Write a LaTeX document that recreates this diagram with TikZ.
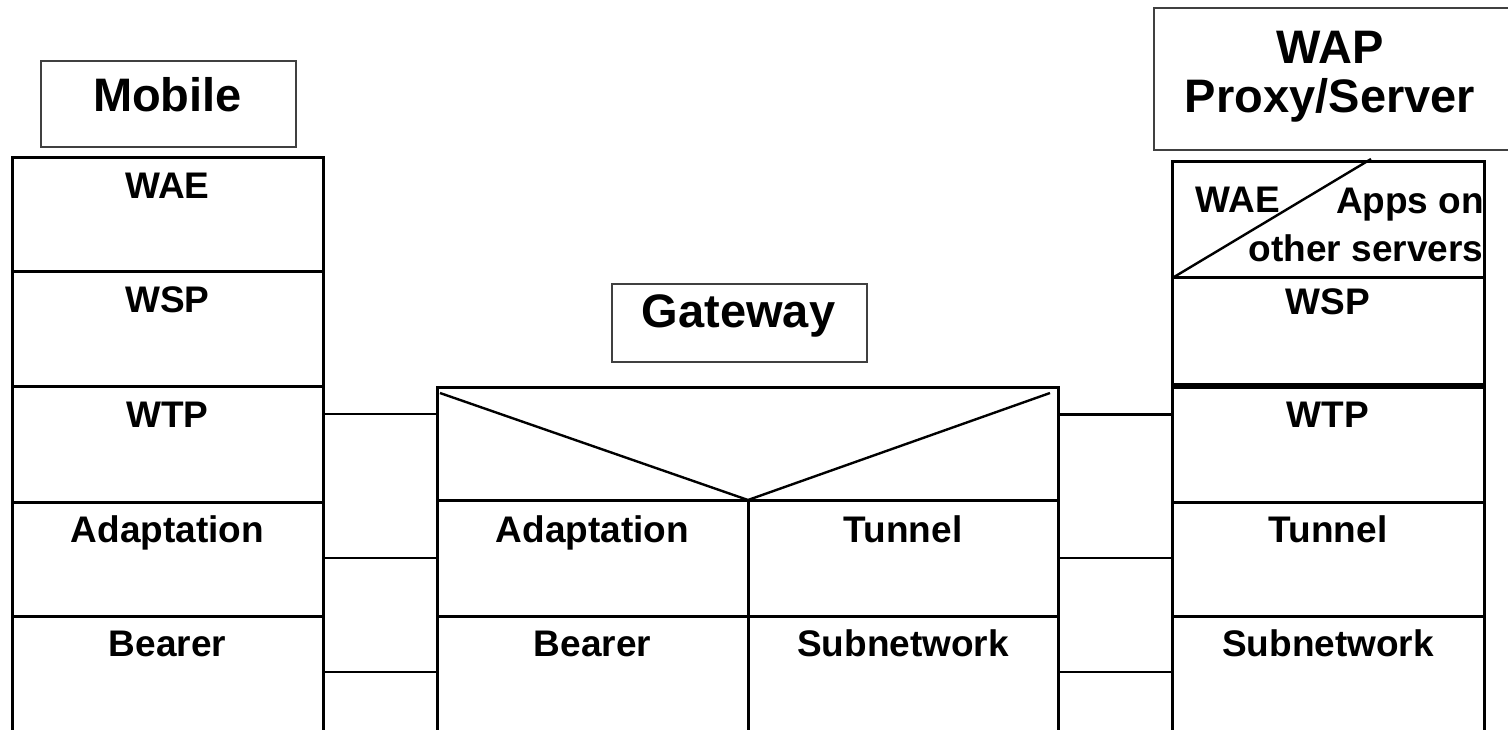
\documentclass[tikz,border=0pt]{standalone}
\usepackage{fontspec}
\setmainfont{Liberation Sans}
\begin{document}
\begin{tikzpicture}[x=1pt,y=-1pt,
  layer/.style={draw, line width=3pt, inner sep=0pt, outer sep=0pt, anchor=north west},
  titlebox/.style={draw=black!75, line width=1.5pt, inner sep=0pt, anchor=north west},
  lab/.style={anchor=base, inner sep=0pt, font=\fontsize{37}{40}\selectfont\bfseries},
  ttl/.style={anchor=base, inner sep=0pt, font=\fontsize{47}{50}\selectfont\bfseries},
  conn/.style={line width=2.6pt},
  diag/.style={line width=2.4pt}]
\useasboundingbox (0,0) rectangle (1508,729);
\clip (0,0) rectangle (1508,729);
% ---------- Mobile ----------
\node[titlebox, minimum width=255pt, minimum height=86pt] (mtitle) at (40,60) {};
\node[ttl] at (167.5,111) {Mobile};
\node[layer, minimum width=311pt, minimum height=114pt] (mwae) at (12,157) {};
\node[layer, minimum width=311pt, minimum height=115pt] (mwsp) at (12,271) {};
\node[layer, minimum width=311pt, minimum height=116pt] (mwtp) at (12,386) {};
\node[layer, minimum width=311pt, minimum height=114pt] (mada) at (12,502) {};
\node[layer, minimum width=311pt, minimum height=130pt] (mbea) at (12,616) {};
\node[lab] at (167.5,198) {WAE};
\node[lab] at (167.5,312) {WSP};
\node[lab] at (167.5,427) {WTP};
\node[lab] at (167.5,542) {Adaptation};
\node[lab] at (167.5,656) {Bearer};
% ---------- Gateway ----------
\node[titlebox, minimum width=255pt, minimum height=78pt] (gtitle) at (611,283) {};
\node[ttl] at (738.5,327) {Gateway};
\node[layer, minimum width=621pt, minimum height=113pt] (gtop) at (437,387) {};
\node[layer, minimum width=311pt, minimum height=116pt] (gada) at (437,500) {};
\node[layer, minimum width=310pt, minimum height=116pt] (gtun) at (748,500) {};
\node[layer, minimum width=311pt, minimum height=130pt] (gbea) at (437,616) {};
\node[layer, minimum width=310pt, minimum height=130pt] (gsub) at (748,616) {};
\draw[diag] ([xshift=3pt,yshift=-6pt]gtop.north west) -- (gada.north east) -- ([xshift=-8pt,yshift=-6pt]gtop.north east);
\node[lab] at (592.5,542) {Adaptation};
\node[lab] at (903,542) {Tunnel};
\node[lab] at (592.5,656) {Bearer};
\node[lab] at (903,656) {Subnetwork};
% ---------- WAP Proxy/Server ----------
\node[titlebox, minimum width=370pt, minimum height=142pt] (stitle) at (1153,7) {};
\node[ttl] at (1330,63) {WAP};
\node[ttl] at (1330,112) {Proxy/Server};
\node[layer, minimum width=312pt, minimum height=116pt] (swae) at (1172,161) {};
\node[layer, minimum width=312pt, minimum height=107pt] (swsp) at (1172,277) {};
\node[layer, minimum width=312pt, minimum height=115pt] (swtp) at (1172,387) {};
\node[layer, minimum width=312pt, minimum height=114pt] (stun) at (1172,502) {};
\node[layer, minimum width=312pt, minimum height=130pt] (ssub) at (1172,616) {};
\draw[diag] ([xshift=2pt]swae.south west) -- ([xshift=199pt,yshift=2pt]swae.north west);
\node[lab] at (1238,212) {WAE};
\node[lab] at (1410,213) {Apps on};
\node[lab] at (1366,261) {other servers};
\node[lab] at (1328,314) {WSP};
\node[lab] at (1328,427) {WTP};
\node[lab] at (1328,542) {Tunnel};
\node[lab] at (1328,656) {Subnetwork};
% ---------- connectors ----------
\draw[conn] ([yshift=30pt]mwtp.east) coordinate (a1) -- (a1 -| gtop.west);
\draw[conn] ([yshift=1pt]mada.east) coordinate (a2) -- (a2 -| gada.west);
\draw[conn] ([yshift=9pt]mbea.east) coordinate (a3) -- (a3 -| gbea.west);
\draw[conn] ([yshift=30pt]swtp.west) coordinate (b1) -- (b1 -| gtop.east);
\draw[conn] ([yshift=1pt]stun.west) coordinate (b2) -- (b2 -| gtun.east);
\draw[conn] ([yshift=9pt]ssub.west) coordinate (b3) -- (b3 -| gsub.east);
\end{tikzpicture}
\end{document}
